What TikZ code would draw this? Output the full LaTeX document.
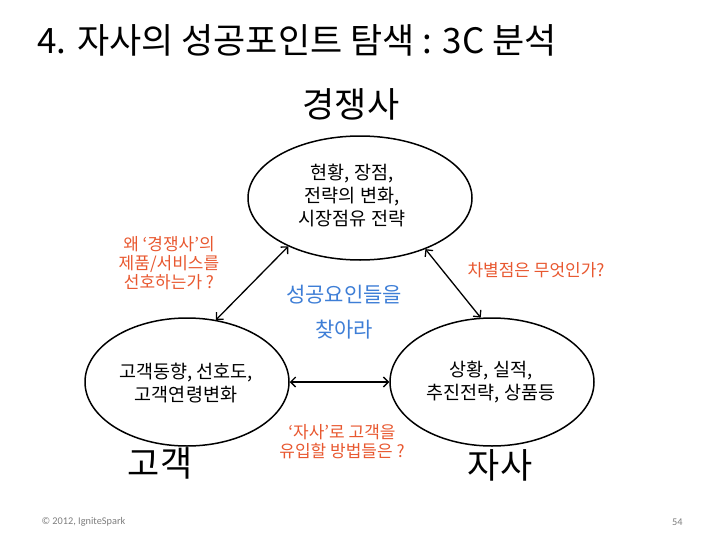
\documentclass[tikz,border=0pt]{standalone}
\usepackage{fontspec}
\setmainfont{Noto Sans CJK KR}
\newfontfamily\footfont{Carlito}
\usetikzlibrary{shapes.geometric, arrows.meta, positioning}
\definecolor{askred}{RGB}{232,88,48}
\definecolor{handblue}{RGB}{62,126,214}
\definecolor{footgray}{RGB}{125,125,125}
\tikzset{
  party/.style={ellipse, draw=black, line width=1.5pt, minimum width=204pt, minimum height=128pt, inner sep=0pt},
  body_text/.style={align=center, font=\fontsize{18.5}{23}\selectfont},
  hand_label/.style={font=\fontsize{35}{38}\selectfont},
  ask_text/.style={align=center, text=askred, font=\fontsize{17}{19}\selectfont},
  hint_text/.style={align=center, text=handblue, font=\fontsize{21}{35}\selectfont},
  foot_text/.style={text=footgray, font=\footfont\fontsize{10.3}{12}\selectfont},
  link/.style={{Straight Barb[length=5pt,width=10pt]}-{Straight Barb[length=5pt,width=10pt]}, line width=1.3pt}
}

\begin{document}
\begin{tikzpicture}[x=1pt, y=-1pt]
  \useasboundingbox (0,0) rectangle (728,546);

  % Title
  \node[hand_label, anchor=west] (title) at (34,40) {4. 자사의 성공포인트 탐색 : 3C 분석};

  % The three C's
  \node[party, minimum width=224pt, minimum height=124pt] (comp) at (360,198) {};
  \node[party] (cust) at (187,382) {};
  \node[party] (own) at (492,382) {};

  \node[body_text] (comptxt) at (352,196) {현황, 장점,\\전략의 변화,\\시장점유 전략};
  \node[body_text] (custtxt) at (186,383) {고객동향, 선호도,\\고객연령변화};
  \node[body_text] (owntxt) at (491,382) {상황, 실적,\\추진전략, 상품등};

  \node[hand_label] (complbl) at (351,104) {경쟁사};
  \node[hand_label] (custlbl) at (160,463) {고객};
  \node[hand_label] (ownlbl) at (500,465) {자사};

  % Links
  \draw[link] (comp.214) -- (cust.65);
  \draw[link] (comp.322) -- (own.100);
  \draw[link] (cust.east) -- (own.west);

  % Questions
  \node[ask_text] (askcomp) at (169,263) {왜 ‘경쟁사’의\\제품/서비스를\\선호하는가 ?};
  \node[ask_text] (askdiff) at (536,270) {차별점은 무엇인가?};
  \node[ask_text] (askcust) at (342,442) {‘자사’로 고객을\\유입할 방법들은 ?};

  \node[hint_text] (hint) at (344,312) {성공요인들을\\찾아라};

  % Footer
  \node[foot_text, anchor=west] (copy) at (38,522) {© 2012, IgniteSpark};
  \node[foot_text, anchor=east] (page) at (686,522) {54};
\end{tikzpicture}
\end{document}
